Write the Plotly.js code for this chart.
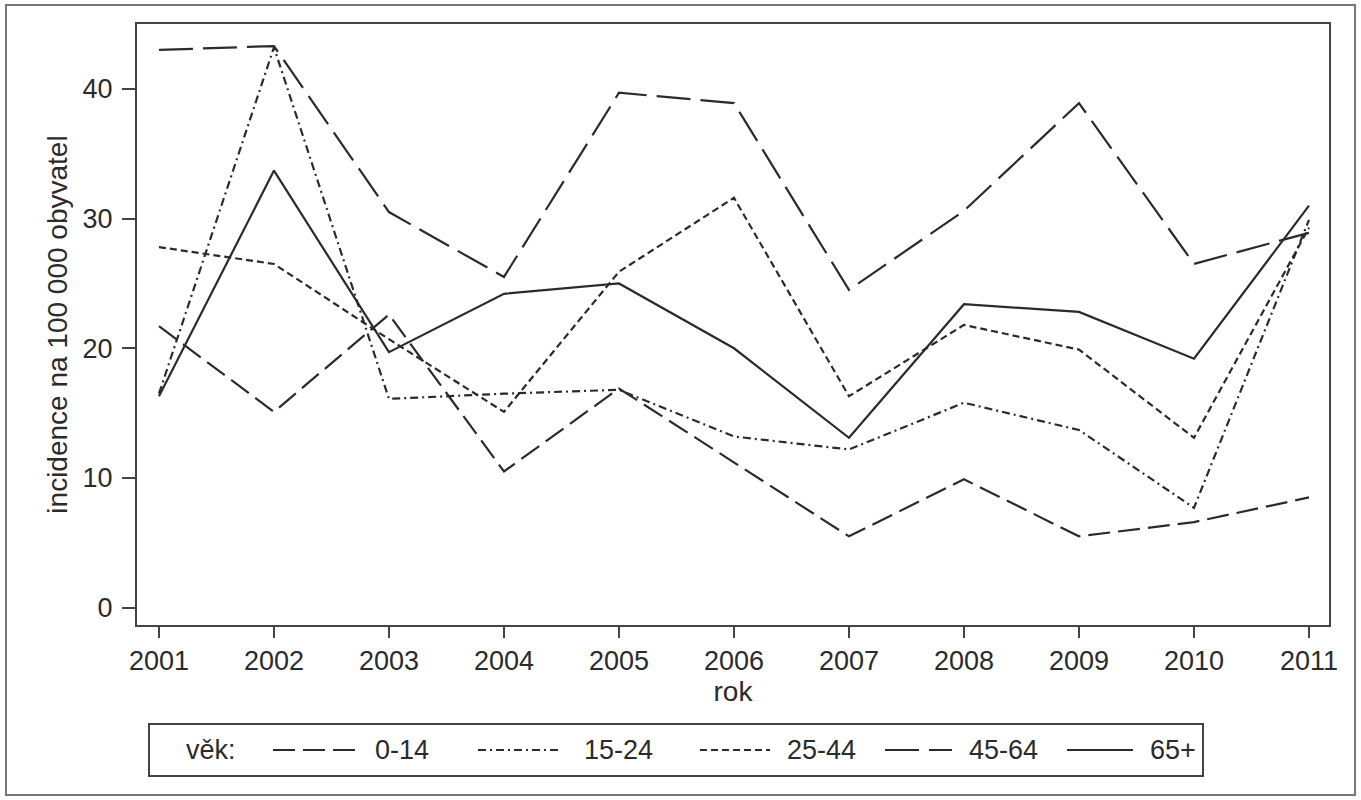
<!DOCTYPE html>
<html>
<head>
<meta charset="utf-8">
<script src="https://cdn.plot.ly/plotly-3.0.1.min.js"></script>
<style>
  html, body { margin: 0; padding: 0; background: #ffffff; }
  #chart { width: 1361px; height: 800px; }
</style>
</head>
<body>
<div id="chart"></div>
<script>
// Data
const years = [2001, 2002, 2003, 2004, 2005, 2006, 2007, 2008, 2009, 2010, 2011];
const seriesNames = ['0-14', '15-24', '25-44', '45-64', '65+'];
const age0_14  = [21.7, 15.1, 22.6, 10.5, 16.9, 11.2, 5.5, 9.9, 5.5, 6.6, 8.5];
const age15_24 = [16.5, 43.2, 16.1, 16.5, 16.8, 13.2, 12.2, 15.8, 13.7, 7.7, 29.9];
const age25_44 = [27.8, 26.5, 20.7, 15.1, 25.9, 31.6, 16.3, 21.8, 19.9, 13.1, 29.3];
const age45_64 = [43.0, 43.3, 30.5, 25.5, 39.7, 38.9, 24.5, 30.6, 38.9, 26.5, 28.9];
const age65    = [16.3, 33.7, 19.7, 24.2, 25.0, 20.0, 13.1, 23.4, 22.8, 19.2, 31.0];
const yTicks = [0, 10, 20, 30, 40];
const legendTitle = 'věk:';

const seriesValues = [age0_14, age15_24, age25_44, age45_64, age65];
const dashes = ['22px,8px', '8px,4px,2px,4px', '7px,4px', '34px,10px', 'solid'];
const lineColor = '#2b2b2b';
const FONT = 'Liberation Sans, Arial, Helvetica, sans-serif';

const W = 1361, H = 800;
const M = { l: 137, r: 32, t: 24, b: 175 };
const plotW = W - M.l - M.r, plotH = H - M.t - M.b;
// helpers: pixel position in the page -> paper coordinates
const px = x => (x - M.l) / plotW;
const py = y => (H - M.b - y) / plotH;

const traces = seriesNames.map((name, i) => ({
  type: 'scatter',
  mode: 'lines',
  name: name,
  x: years,
  y: seriesValues[i],
  line: { color: lineColor, width: 2.2, dash: dashes[i] },
  hoverinfo: 'x+y+name',
  showlegend: false
}));

// Legend (drawn as in the reference: long line samples in one boxed row)
const legendSlots = [
  { s0: 273, s1: 355, t: 373 },
  { s0: 478, s1: 562, t: 582 },
  { s0: 700, s1: 770, t: 785 },
  { s0: 885, s1: 952, t: 967 },
  { s0: 1067, s1: 1133, t: 1148 }
];
const legendY = 750;

const shapes = [
  // outer frame around the whole graphic
  { type: 'rect', xref: 'paper', yref: 'paper',
    x0: px(6), x1: px(1355), y0: py(795), y1: py(5),
    line: { color: '#777', width: 2 }, fillcolor: 'rgba(0,0,0,0)', layer: 'below' },
  // legend box
  { type: 'rect', xref: 'paper', yref: 'paper',
    x0: px(149), x1: px(1203), y0: py(776), y1: py(724),
    line: { color: '#444', width: 2 }, fillcolor: 'rgba(0,0,0,0)', layer: 'above' }
];
const annotations = [
  { xref: 'paper', yref: 'paper', x: px(184), y: py(legendY), xanchor: 'left', yanchor: 'middle',
    text: legendTitle, showarrow: false, font: { family: FONT, size: 27, color: lineColor } }
];
seriesNames.forEach((name, i) => {
  const s = legendSlots[i];
  shapes.push({ type: 'line', xref: 'paper', yref: 'paper',
    x0: px(s.s0), x1: px(s.s1), y0: py(legendY), y1: py(legendY),
    line: { color: lineColor, width: 2.2, dash: dashes[i] } });
  annotations.push({ xref: 'paper', yref: 'paper', x: px(s.t), y: py(legendY),
    xanchor: 'left', yanchor: 'middle', text: name, showarrow: false,
    font: { family: FONT, size: 27, color: lineColor } });
});

const layout = {
  width: W,
  height: H,
  margin: { l: M.l, r: M.r, t: M.t, b: M.b, autoexpand: false },
  paper_bgcolor: '#ffffff',
  plot_bgcolor: '#ffffff',
  font: { family: FONT, size: 27, color: lineColor },
  showlegend: false,
  xaxis: {
    range: [2000.809, 2011.174],
    tickvals: years,
    ticktext: years.map(String),
    ticks: 'outside', ticklen: 11, tickwidth: 2, tickcolor: '#444',
    showline: true, linecolor: '#444', linewidth: 2, mirror: true,
    showgrid: false, zeroline: false,
    tickfont: { family: FONT, size: 27, color: lineColor },
    title: { text: 'rok', font: { family: FONT, size: 28, color: lineColor }, standoff: 4 }
  },
  yaxis: {
    range: [-1.334, 45.0],
    tickvals: yTicks,
    ticks: 'outside', ticklen: 13, tickwidth: 2, tickcolor: '#444',
    ticklabelstandoff: 4,
    showline: true, linecolor: '#444', linewidth: 2, mirror: true,
    showgrid: false, zeroline: false,
    tickfont: { family: FONT, size: 27, color: lineColor },
    title: { text: 'incidence na 100 000 obyvatel', font: { family: FONT, size: 28, color: lineColor }, standoff: 7 }
  },
  shapes: shapes,
  annotations: annotations
};

Plotly.newPlot('chart', traces, layout, { displayModeBar: false, staticPlot: true });
</script>
</body>
</html>
